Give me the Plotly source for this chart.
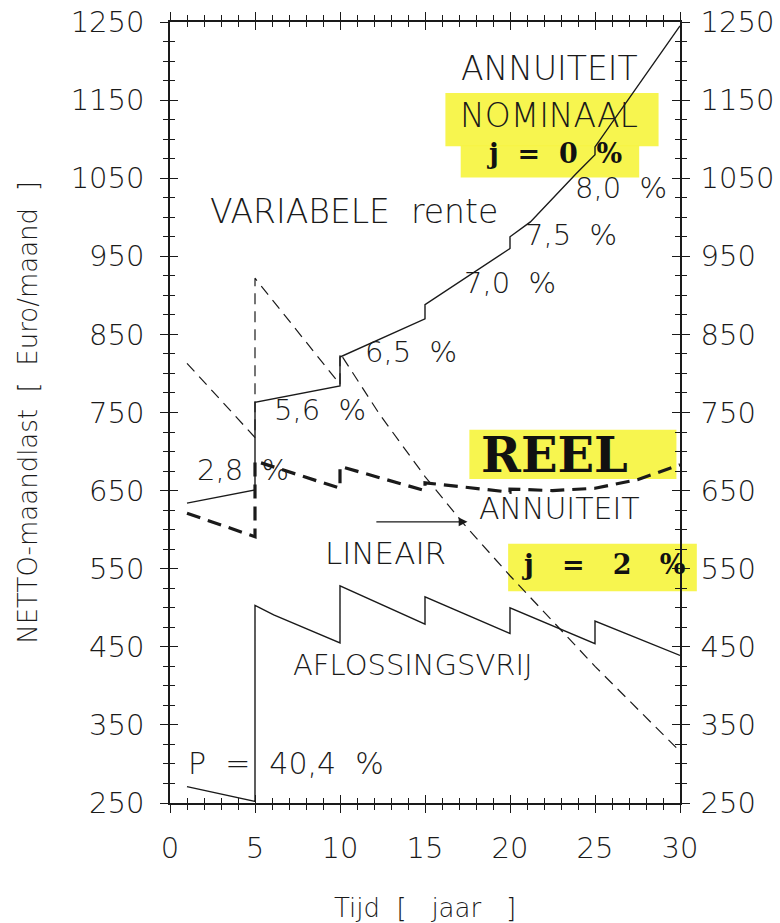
import plotly.graph_objects as go

# --- data -----------------------------------------------------------------
# Annuity, nominal (j = 0 %), variable interest rate; steps at each rate reset
nom_x = [1, 5, 5, 10, 10, 15, 15, 20, 20, 21.2, 23.9, 25, 25, 30]
nom_y = [634, 651, 763, 784, 821, 870, 888, 960, 975, 994, 1056, 1080, 1090, 1245]

# Annuity, real (j = 2 %)
reel_x = [1, 5, 5, 10, 10, 15, 15, 20, 20, 22.5, 25, 27.5, 30]
reel_y = [621, 591, 688, 653, 681, 650, 660, 648, 652, 650, 653, 664, 683]

# Linear repayment
lin_x = [1, 5, 5, 10, 10, 12.35, 15, 17.25, 20, 25, 30]
lin_y = [813, 718, 922, 786, 826, 747, 668, 608, 541, 425, 316]

# Interest-only (aflossingsvrij)
afl_x = [1, 5, 5, 6.1, 10, 10, 15, 15, 20, 20, 25, 25, 30]
afl_y = [271, 252, 503, 491, 455, 528, 479, 514, 467, 500, 454, 483, 439]

x_tick0, x_dtick = 0, 5
y_tick0, y_dtick = 250, 100

# labels: (text, x, y, size, style)
labels = [
    ("ANNUITEIT", 22.3, 1191, 33, "sans"),
    ("NOMINAAL", 22.3, 1130, 33, "sans"),
    ("j  =  0  %", 22.6, 1082, 27, "serif"),
    ("8,0  %", 26.5, 1038, 29, "sans"),
    ("VARIABELE  rente", 10.8, 1008, 33, "sans"),
    ("7,5  %", 23.6, 977, 29, "sans"),
    ("7,0  %", 20.0, 916, 29, "sans"),
    ("6,5  %", 14.2, 828, 29, "sans"),
    ("5,6  %", 8.8, 753, 29, "sans"),
    ("2,8  %", 4.3, 677, 29, "sans"),
    ("REEL", 22.6, 696, 48, "serif"),
    ("ANNUITEIT", 22.9, 627, 30, "sans"),
    ("LINEAIR", 12.7, 570, 31, "sans"),
    ("j   =   2   %", 25.5, 556, 27, "serif"),
    ("AFLOSSINGSVRIJ", 14.3, 427, 29, "sans"),
    ("P  =  40,4  %", 6.8, 301, 30, "sans"),
]

SANS = "DejaVu Sans"
SANS_W = 200
SERIF = "DejaVu Serif"
INK = "#1a1a1a"

fig = go.Figure()

fig.add_trace(go.Scatter(x=nom_x, y=nom_y, mode="lines",
                         line=dict(color=INK, width=1.4)))
fig.add_trace(go.Scatter(x=afl_x, y=afl_y, mode="lines",
                         line=dict(color=INK, width=1.4)))
fig.add_trace(go.Scatter(x=lin_x, y=lin_y, mode="lines",
                         line=dict(color=INK, width=1.2, dash="11px,7px")))
fig.add_trace(go.Scatter(x=reel_x, y=reel_y, mode="lines",
                         line=dict(color=INK, width=3.2, dash="14px,8px")))
# invisible carrier traces so every overlaid tick axis gets drawn
for k in (2, 3, 4):
    fig.add_trace(go.Scatter(x=[0], y=[250], xaxis="x%d" % k, yaxis="y%d" % k,
                             mode="markers", marker=dict(opacity=0),
                             hoverinfo="skip"))

# yellow marker highlights behind the key labels
hl = "rgba(246,244,60,0.9)"
for x0, x1, y0, y1 in [(0.540, 0.958, 1091, 1159),
                       (0.570, 0.920, 1051, 1092),
                       (0.587, 0.993, 665, 728),
                       (0.663, 1.033, 521, 582)]:
    fig.add_shape(type="rect", xref="paper", yref="y", x0=x0, x1=x1, y0=y0, y1=y1,
                  fillcolor=hl, line=dict(width=0), layer="below")

for text, x, y, size, style in labels:
    if style == "serif":
        font = dict(family=SERIF, size=size, color="#111", weight="bold")
        txt = "<b>%s</b>" % text
    else:
        font = dict(family=SANS, size=size, color=INK, weight=SANS_W)
        txt = text
    fig.add_annotation(x=x, y=y, text=txt, showarrow=False, font=font,
                       xanchor="center", yanchor="middle")

# arrow pointing from LINEAIR to its curve
fig.add_annotation(x=17.5, y=610, ax=12.05, ay=610, axref="x", ayref="y",
                   xref="x", yref="y", text="", showarrow=True,
                   arrowhead=2, arrowsize=1.6, arrowwidth=1.1, arrowcolor=INK)

tickfont = dict(family=SANS, size=29, color=INK, weight=SANS_W)
titlefont = dict(family=SANS, size=26, color=INK, weight=SANS_W)


def xaxis(side, ticks, labels=False, **extra):
    d = dict(range=[0, 30], tickmode="linear", tick0=x_tick0, dtick=x_dtick,
             side=side, ticks=ticks, ticklen=8, tickwidth=1.3, tickcolor=INK,
             minor=dict(dtick=1, tick0=0, ticklen=5, tickwidth=1, tickcolor=INK,
                        ticks=ticks),
             showticklabels=labels, showgrid=False, zeroline=False,
             showline=True, linecolor=INK, linewidth=1.5, automargin=False)
    d.update(extra)
    return d


def yaxis(side, ticks, labels=False, **extra):
    d = dict(range=[250, 1250], tickmode="linear", tick0=y_tick0, dtick=y_dtick,
             side=side, ticks=ticks, ticklen=8, tickwidth=1.3, tickcolor=INK,
             minor=dict(dtick=25, tick0=250, ticklen=5, tickwidth=1, tickcolor=INK,
                        ticks=ticks),
             showticklabels=labels, showgrid=False, zeroline=False,
             showline=True, linecolor=INK, linewidth=1.5, automargin=False)
    d.update(extra)
    return d


fig.update_layout(
    width=780, height=923,
    margin=dict(l=170, r=100, t=22, b=120, autoexpand=False),
    paper_bgcolor="white", plot_bgcolor="white",
    showlegend=False,
    xaxis=xaxis("bottom", "outside", True, anchor="y", tickfont=tickfont,
                ticklabelstandoff=10,
                title=dict(text="Tijd  [   jaar   ]", font=titlefont, standoff=44)),
    xaxis2=xaxis("bottom", "inside", overlaying="x", anchor="y"),
    xaxis3=xaxis("top", "outside", overlaying="x", anchor="y"),
    xaxis4=xaxis("top", "inside", overlaying="x", anchor="y"),
    yaxis=yaxis("left", "outside", True, anchor="x", tickfont=tickfont,
                ticklabelstandoff=10,
                title=dict(text="NETTO-maandlast  [  Euro/maand  ]",
                           font=titlefont, standoff=26)),
    yaxis2=yaxis("left", "inside", overlaying="y", anchor="x"),
    yaxis3=yaxis("right", "outside", True, overlaying="y", anchor="x",
                 tickfont=tickfont, ticklabelstandoff=5),
    yaxis4=yaxis("right", "inside", overlaying="y", anchor="x"),
)

fig.write_html("out.html")
